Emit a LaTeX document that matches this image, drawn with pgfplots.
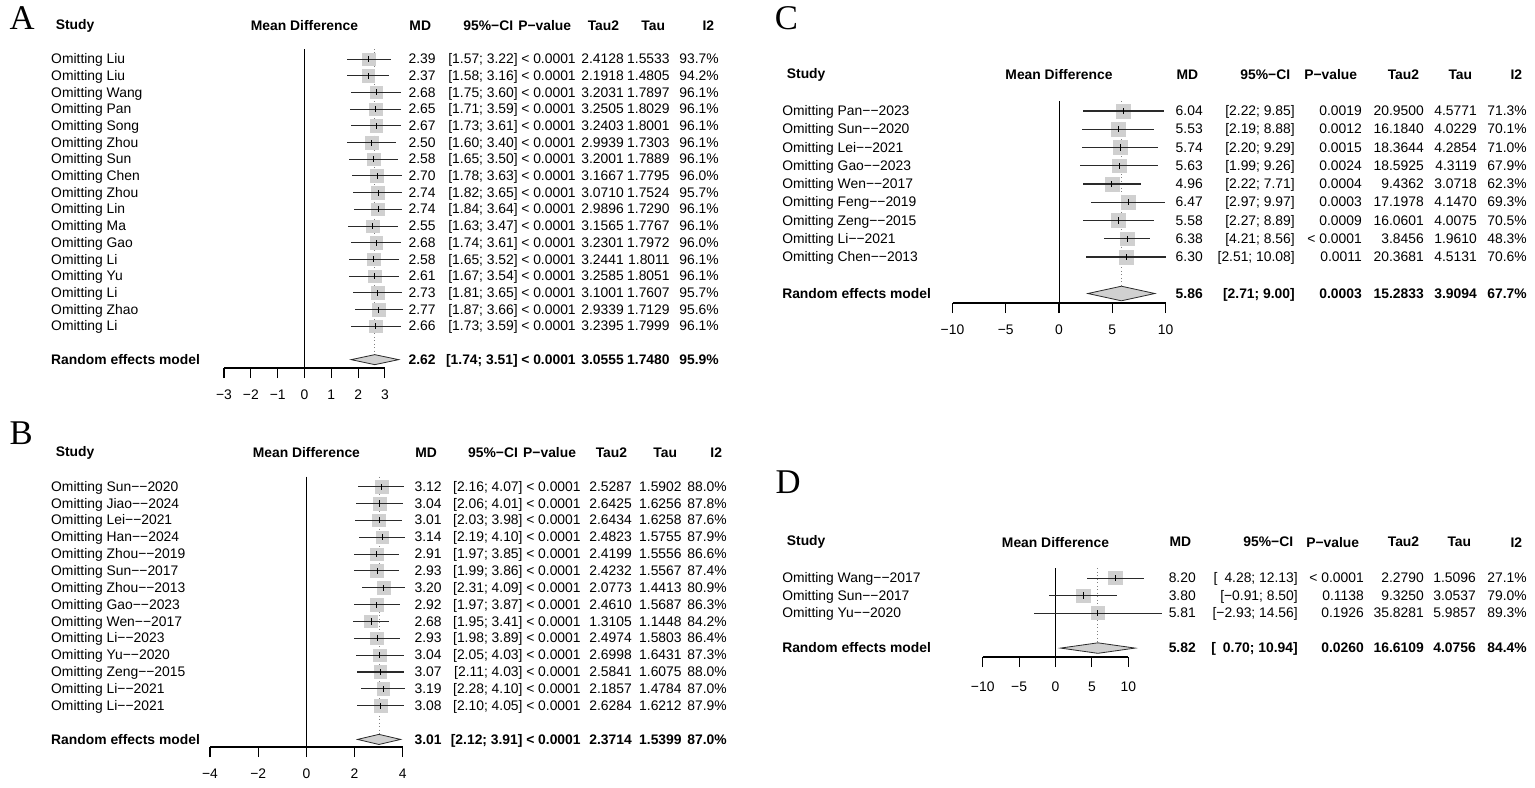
\documentclass[border=0pt]{standalone}
\usepackage{fontspec}
\setmainfont{Liberation Sans}
\newfontfamily\letterfont{Liberation Serif}
\usepackage{pgfplots}
\usepackage{pgfplotstable}
\pgfplotsset{compat=1.18}

\definecolor{boxgray}{HTML}{D0D0D0}
\definecolor{linegray}{HTML}{2A2A2A}

\newcommand{\fs}{\fontsize{10.4pt}{12pt}\selectfont}
% [ ; ] would break pgfplots' point list, so the CI text uses \char codes
\def\ci#1#2{\char91 #1\char59\ #2\char93{}}

% leave-one-out tables
\pgfplotstableread[col sep=comma]{
study,md,lo,hi,ci,p,tau2,tau,i2
Omitting Liu,2.39,1.57,3.22,\ci{1.57}{3.22},< 0.0001,2.4128,1.5533,93.7\%
Omitting Liu,2.37,1.58,3.16,\ci{1.58}{3.16},< 0.0001,2.1918,1.4805,94.2\%
Omitting Wang,2.68,1.75,3.60,\ci{1.75}{3.60},< 0.0001,3.2031,1.7897,96.1\%
Omitting Pan,2.65,1.71,3.59,\ci{1.71}{3.59},< 0.0001,3.2505,1.8029,96.1\%
Omitting Song,2.67,1.73,3.61,\ci{1.73}{3.61},< 0.0001,3.2403,1.8001,96.1\%
Omitting Zhou,2.50,1.60,3.40,\ci{1.60}{3.40},< 0.0001,2.9939,1.7303,96.1\%
Omitting Sun,2.58,1.65,3.50,\ci{1.65}{3.50},< 0.0001,3.2001,1.7889,96.1\%
Omitting Chen,2.70,1.78,3.63,\ci{1.78}{3.63},< 0.0001,3.1667,1.7795,96.0\%
Omitting Zhou,2.74,1.82,3.65,\ci{1.82}{3.65},< 0.0001,3.0710,1.7524,95.7\%
Omitting Lin,2.74,1.84,3.64,\ci{1.84}{3.64},< 0.0001,2.9896,1.7290,96.1\%
Omitting Ma,2.55,1.63,3.47,\ci{1.63}{3.47},< 0.0001,3.1565,1.7767,96.1\%
Omitting Gao,2.68,1.74,3.61,\ci{1.74}{3.61},< 0.0001,3.2301,1.7972,96.0\%
Omitting Li,2.58,1.65,3.52,\ci{1.65}{3.52},< 0.0001,3.2441,1.8011,96.1\%
Omitting Yu,2.61,1.67,3.54,\ci{1.67}{3.54},< 0.0001,3.2585,1.8051,96.1\%
Omitting Li,2.73,1.81,3.65,\ci{1.81}{3.65},< 0.0001,3.1001,1.7607,95.7\%
Omitting Zhao,2.77,1.87,3.66,\ci{1.87}{3.66},< 0.0001,2.9339,1.7129,95.6\%
Omitting Li,2.66,1.73,3.59,\ci{1.73}{3.59},< 0.0001,3.2395,1.7999,96.1\%
}\Atab
\pgfplotstableread[col sep=comma]{
study,md,lo,hi,ci,p,tau2,tau,i2
Random effects model,2.62,1.74,3.51,\ci{1.74}{3.51},< 0.0001,3.0555,1.7480,95.9\%
}\Arand

\pgfplotstableread[col sep=comma]{
study,md,lo,hi,ci,p,tau2,tau,i2
Omitting Sun−−2020,3.12,2.16,4.07,\ci{2.16}{4.07},< 0.0001,2.5287,1.5902,88.0\%
Omitting Jiao−−2024,3.04,2.06,4.01,\ci{2.06}{4.01},< 0.0001,2.6425,1.6256,87.8\%
Omitting Lei−−2021,3.01,2.03,3.98,\ci{2.03}{3.98},< 0.0001,2.6434,1.6258,87.6\%
Omitting Han−−2024,3.14,2.19,4.10,\ci{2.19}{4.10},< 0.0001,2.4823,1.5755,87.9\%
Omitting Zhou−−2019,2.91,1.97,3.85,\ci{1.97}{3.85},< 0.0001,2.4199,1.5556,86.6\%
Omitting Sun−−2017,2.93,1.99,3.86,\ci{1.99}{3.86},< 0.0001,2.4232,1.5567,87.4\%
Omitting Zhou−−2013,3.20,2.31,4.09,\ci{2.31}{4.09},< 0.0001,2.0773,1.4413,80.9\%
Omitting Gao−−2023,2.92,1.97,3.87,\ci{1.97}{3.87},< 0.0001,2.4610,1.5687,86.3\%
Omitting Wen−−2017,2.68,1.95,3.41,\ci{1.95}{3.41},< 0.0001,1.3105,1.1448,84.2\%
Omitting Li−−2023,2.93,1.98,3.89,\ci{1.98}{3.89},< 0.0001,2.4974,1.5803,86.4\%
Omitting Yu−−2020,3.04,2.05,4.03,\ci{2.05}{4.03},< 0.0001,2.6998,1.6431,87.3\%
Omitting Zeng−−2015,3.07,2.11,4.03,\ci{2.11}{4.03},< 0.0001,2.5841,1.6075,88.0\%
Omitting Li−−2021,3.19,2.28,4.10,\ci{2.28}{4.10},< 0.0001,2.1857,1.4784,87.0\%
Omitting Li−−2021,3.08,2.10,4.05,\ci{2.10}{4.05},< 0.0001,2.6284,1.6212,87.9\%
}\Btab
\pgfplotstableread[col sep=comma]{
study,md,lo,hi,ci,p,tau2,tau,i2
Random effects model,3.01,2.12,3.91,\ci{2.12}{3.91},< 0.0001,2.3714,1.5399,87.0\%
}\Brand

\pgfplotstableread[col sep=comma]{
study,md,lo,hi,ci,p,tau2,tau,i2
Omitting Pan−−2023,6.04,2.22,9.85,\ci{2.22}{9.85},0.0019,20.9500,4.5771,71.3\%
Omitting Sun−−2020,5.53,2.19,8.88,\ci{2.19}{8.88},0.0012,16.1840,4.0229,70.1\%
Omitting Lei−−2021,5.74,2.20,9.29,\ci{2.20}{9.29},0.0015,18.3644,4.2854,71.0\%
Omitting Gao−−2023,5.63,1.99,9.26,\ci{1.99}{9.26},0.0024,18.5925,4.3119,67.9\%
Omitting Wen−−2017,4.96,2.22,7.71,\ci{2.22}{7.71},0.0004,9.4362,3.0718,62.3\%
Omitting Feng−−2019,6.47,2.97,9.97,\ci{2.97}{9.97},0.0003,17.1978,4.1470,69.3\%
Omitting Zeng−−2015,5.58,2.27,8.89,\ci{2.27}{8.89},0.0009,16.0601,4.0075,70.5\%
Omitting Li−−2021,6.38,4.21,8.56,\ci{4.21}{8.56},< 0.0001,3.8456,1.9610,48.3\%
Omitting Chen−−2013,6.30,2.51,10.08,\ci{2.51}{10.08},0.0011,20.3681,4.5131,70.6\%
}\Ctab
\pgfplotstableread[col sep=comma]{
study,md,lo,hi,ci,p,tau2,tau,i2
Random effects model,5.86,2.71,9.00,\ci{2.71}{9.00},0.0003,15.2833,3.9094,67.7\%
}\Crand

\pgfplotstableread[col sep=comma]{
study,md,lo,hi,ci,p,tau2,tau,i2
Omitting Wang−−2017,8.20,4.28,12.13,\ci{\enspace4.28}{12.13},< 0.0001,2.2790,1.5096,27.1\%
Omitting Sun−−2017,3.80,-0.91,8.50,\ci{−0.91}{8.50},0.1138,9.3250,3.0537,79.0\%
Omitting Yu−−2020,5.81,-2.93,14.56,\ci{−2.93}{14.56},0.1926,35.8281,5.9857,89.3\%
}\Dtab
\pgfplotstableread[col sep=comma]{
study,md,lo,hi,ci,p,tau2,tau,i2
Random effects model,5.82,0.70,10.94,\ci{\enspace0.70}{10.94},0.0260,16.6109,4.0756,84.4\%
}\Drand

\pgfplotsset{
  forest/.style={
    anchor=south west, clip=false, clip marker paths=true,
    enlargelimits=false, ymax=0,
    axis x line=bottom, axis y line=none,
    x axis line style={-, line width=0.8pt, black},
    tick align=outside, major tick length=7.5pt,
    xtick style={line width=0.8pt, black},
    xticklabel style={font=\fs, yshift=-5.5pt},
  },
  txt/.style={draw=none, mark=none, point meta=explicit symbolic,
    nodes near coords={\pgfplotspointmeta},
    nodes near coords style={anchor=#1, inner sep=0pt, text height=7.5pt,
      text depth=0.6pt, black, font=\fs}},
  txtb/.style={txt=#1, nodes near coords style={font=\fs\bfseries}},
  sq/.style={only marks, mark=square*, mark size=#1,
    mark options={draw=boxgray, fill=boxgray}},
  cil/.style={draw=none, mark=none, error bars/.cd, x dir=both, x explicit,
    error mark=none, error bar style={draw=linegray, line width=0.8pt}},
  est/.style={draw=none, mark=none, error bars/.cd, y dir=both, y fixed=#1,
    error mark=none, error bar style={draw=black, line width=0.6pt}},
  diam/.style={fill=boxgray, draw=linegray, line width=0.6pt},
  zero/.style={black, line width=0.6pt},
  pooled/.style={gray, dotted, line width=0.6pt},
}

% text columns: #1 style, #2 table, #3 y position
\newcommand{\cols}[3]{%
  \addplot[#1=west] table[x expr=\xs, y expr=#3, meta=study]{#2};
  \addplot[#1=east] table[x expr=\xmd, y expr=#3, meta=md]{#2};
  \addplot[#1=east] table[x expr=\xci, y expr=#3, meta=ci]{#2};
  \addplot[#1=east] table[x expr=\xp, y expr=#3, meta=p]{#2};
  \addplot[#1=east] table[x expr=\xtt, y expr=#3, meta=tau2]{#2};
  \addplot[#1=east] table[x expr=\xt, y expr=#3, meta=tau]{#2};
  \addplot[#1=east] table[x expr=\xi, y expr=#3, meta=i2]{#2};
}
% study rows: squares, intervals, estimate ticks (#3 = half tick height)
\newcommand{\rows}[3]{%
  \addplot[sq=#2] table[x=md, y expr=-\coordindex-1]{#1};
  \addplot[cil] table[x=md, y expr=-\coordindex-1,
    x error plus expr=\thisrow{hi}-\thisrow{md},
    x error minus expr=\thisrow{md}-\thisrow{lo}]{#1};
  \addplot[est=#3] table[x=md, y expr=-\coordindex-1]{#1};
}
% column headers: #1 y position
\newcommand{\heads}[1]{%
  \node[anchor=west, font=\fs\bfseries] at (axis cs:\xs,#1) {Study};
  \node[anchor=center, font=\fs\bfseries] at (axis cs:0,#1) {Mean Difference};
  \node[anchor=east, font=\fs\bfseries] at (axis cs:\xmd,#1) {MD};
  \node[anchor=east, font=\fs\bfseries] at (axis cs:\xci,#1) {95\%−CI};
  \node[anchor=east, font=\fs\bfseries] at (axis cs:\xp,#1) {P−value};
  \node[anchor=east, font=\fs\bfseries] at (axis cs:\xtt,#1) {Tau2};
  \node[anchor=east, font=\fs\bfseries] at (axis cs:\xt,#1) {Tau};
  \node[anchor=east, font=\fs\bfseries] at (axis cs:\xi,#1) {I2};
}

\begin{document}
\fs
\begin{tikzpicture}
\path[use as bounding box] (0pt,0pt) rectangle (1151.25pt,-591pt);

\node[anchor=base west, inner sep=0pt, font=\fontsize{26pt}{26pt}\letterfont] at (7pt,-22.5pt) {A};
\node[anchor=base west, inner sep=0pt, font=\fontsize{26pt}{26pt}\letterfont] at (7pt,-333pt) {B};
\node[anchor=base west, inner sep=0pt, font=\fontsize{26pt}{26pt}\letterfont] at (581pt,-22.5pt) {C};
\node[anchor=base west, inner sep=0pt, font=\fontsize{26pt}{26pt}\letterfont] at (581.5pt,-370pt) {D};

% ---------- A ----------
\def\xs{-9.45}\def\xmd{4.90}\def\xci{7.96}\def\xp{10.12}
\def\xtt{11.91}\def\xt{13.62}\def\xi{15.45}
\begin{axis}[forest, at={(168pt,-276pt)}, x=20.12pt, y=12.525pt,
  xmin=-3, xmax=3, ymin=-19.5,
  xtick={-3,-2,-1,0,1,2,3}, xticklabels={−3,−2,−1,0,1,2,3}]
  \addplot[zero] coordinates {(0,-0.4) (0,-19.5)};
  \addplot[pooled] coordinates {(2.62,-0.4) (2.62,-19)};
  \rows{\Atab}{4.7pt}{0.18}
  \addplot[diam] coordinates {(1.74,-19) (2.62,-18.7) (3.51,-19) (2.62,-19.3)} -- cycle;
  \cols{txt}{\Atab}{-\coordindex-1}
  \cols{txtb}{\Arand}{-19}
  \heads{1}
\end{axis}

% ---------- B ----------
\def\xs{-10.60}\def\xmd{5.62}\def\xci{8.98}\def\xp{11.39}
\def\xtt{13.51}\def\xt{15.58}\def\xi{17.45}
\begin{axis}[forest, at={(157.5pt,-560.25pt)}, x=18.075pt, y=12.6375pt,
  xmin=-4, xmax=4, ymin=-16.45,
  xtick={-4,-2,0,2,4}, xticklabels={−4,−2,0,2,4}]
  \addplot[zero] coordinates {(0,-0.4) (0,-16.45)};
  \addplot[pooled] coordinates {(3.01,-0.4) (3.01,-16)};
  \rows{\Btab}{4.7pt}{0.18}
  \addplot[diam] coordinates {(2.12,-16) (3.01,-15.7) (3.91,-16) (3.01,-16.3)} -- cycle;
  \cols{txt}{\Btab}{-\coordindex-1}
  \cols{txtb}{\Brand}{-16}
  \heads{1}
\end{axis}

% ---------- C ----------
\def\xs{-26.01}\def\xmd{13.52}\def\xci{22.16}\def\xp{28.45}
\def\xtt{34.27}\def\xt{39.25}\def\xi{43.94}
\begin{axis}[forest, at={(714.375pt,-227.25pt)}, x=7.9875pt, y=13.6875pt,
  xmin=-10, xmax=10, ymin=-11.52,
  xtick={-10,-5,0,5,10}, xticklabels={−10,−5,0,5,10}]
  \addplot[zero] coordinates {(0,-0.45) (0,-11.52)};
  \addplot[pooled] coordinates {(5.86,-0.45) (5.86,-11)};
  \rows{\Ctab}{5.2pt}{0.17}
  \addplot[diam] coordinates {(2.71,-11) (5.86,-10.6) (9.00,-11) (5.86,-11.4)} -- cycle;
  \cols{txt}{\Ctab}{-\coordindex-1}
  \cols{txtb}{\Crand}{-11}
  \heads{1}
\end{axis}

% ---------- D ----------
\def\xs{-37.57}\def\xmd{19.30}\def\xci{33.31}\def\xp{42.38}
\def\xtt{50.62}\def\xt{57.76}\def\xi{64.77}
\begin{axis}[forest, at={(737.025pt,-492.75pt)}, x=5.46pt, y=13.125pt,
  xmin=-10, xmax=10, ymin=-5.51,
  xtick={-10,-5,0,5,10}, xticklabels={−10,−5,0,5,10},
  xticklabel style={yshift=-2pt}]
  \addplot[zero] coordinates {(0,-0.45) (0,-5.51)};
  \addplot[pooled] coordinates {(5.82,-0.45) (5.82,-5)};
  \rows{\Dtab}{5pt}{0.18}
  \addplot[diam] coordinates {(0.70,-5) (5.82,-4.7) (10.94,-5) (5.82,-5.3)} -- cycle;
  \cols{txt}{\Dtab}{-\coordindex-1}
  \cols{txtb}{\Drand}{-5}
  \heads{1.05}
\end{axis}
\end{tikzpicture}
\end{document}
